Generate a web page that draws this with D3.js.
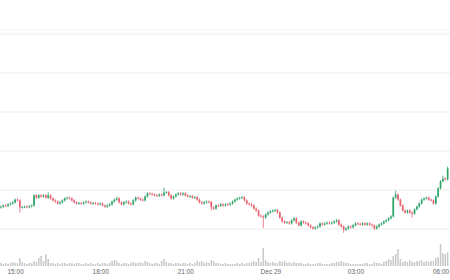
<!DOCTYPE html>
<html>
<head>
	<meta charset="UTF-8"/>
	<title>5m candles</title>
	<style type="text/css">
		body {
		margin: 0;
		background: #fff;
		font-family: Roboto, 'Open Sans', sans-serif;
		}

		svg {
		display: block;
		}

		.grid line {
		stroke: #ececec;
		stroke-width: 1;
		}

		.grid path, .axis path {
		display: none;
		}

		line.top-rule {
		stroke: #efefef;
		stroke-width: 2;
		stroke-dasharray: 1 2;
		}

		.axis text {
		font-size: 6.5px;
		fill: #666;
		}

		.vol {
		fill: #c8c8c8;
		}

		.up {
		fill: #2ea56b;
		stroke: #2ea56b;
		}

		.down {
		fill: #e8606d;
		stroke: #e8606d;
		}
	</style>
	<script src="https://d3js.org/d3.v7.min.js"></script>
</head>
<body>

	<svg width="450" height="280"></svg>

	<script>
		// 5 minute candles, 28 Dec 14:30 -> 29 Dec 06:15
		const firstTime = new Date(2023, 11, 28, 14, 30);
		const firstOpen = 2355.4;

		const closes = [
			2355.6, 2355.9, 2355.8, 2356.2, 2356.4, 2356.7, 2357.4, 2357.2, 2355.4, 2355.5,
			2355.6, 2355.5, 2355.7, 2355.9, 2358.5, 2357.9, 2358.5, 2358.2, 2358.5, 2357.9,
			2358.5, 2357.7, 2357.2, 2356.9, 2356.4, 2356.7, 2357.2, 2357.7, 2357.9, 2357.7,
			2357.2, 2356.7, 2356.4, 2356.5, 2356.4, 2356.7, 2356.9, 2356.7, 2356.4, 2356.5,
			2356.4, 2356.2, 2356.4, 2355.9, 2355.6, 2355.9, 2356.2, 2356.9, 2357.4, 2357.7,
			2356.7, 2356.2, 2356.7, 2356.9, 2356.4, 2356.2, 2357.2, 2357.9, 2357.7, 2357.4,
			2357.2, 2358.2, 2359.0, 2358.9, 2358.7, 2358.5, 2358.4, 2358.7, 2358.5, 2359.2,
			2359.3, 2358.5, 2357.7, 2358.2, 2358.7, 2359.0, 2358.7, 2359.0, 2358.5, 2358.2,
			2358.3, 2357.9, 2358.0, 2357.4, 2356.7, 2356.4, 2356.7, 2356.9, 2356.8, 2355.4,
			2355.1, 2355.9, 2355.8, 2356.2, 2355.9, 2356.2, 2356.1, 2356.4, 2356.9, 2357.4,
			2357.7, 2357.9, 2358.0, 2357.2, 2356.4, 2356.2, 2355.9, 2355.1, 2354.6, 2353.3,
			2353.1, 2352.8, 2353.6, 2354.1, 2354.4, 2354.6, 2354.7, 2354.1, 2352.8, 2351.8,
			2351.5, 2351.6, 2351.3, 2352.1, 2352.6, 2351.5, 2350.8, 2351.8, 2351.5, 2351.3,
			2350.8, 2350.3, 2350.0, 2350.3, 2350.5, 2351.3, 2351.0, 2351.3, 2351.5, 2351.3,
			2351.5, 2351.8, 2352.1, 2351.0, 2350.5, 2349.7, 2350.0, 2350.5, 2350.3, 2350.8,
			2351.3, 2351.2, 2351.0, 2351.3, 2351.0, 2351.3, 2351.0, 2350.8, 2350.0, 2350.5,
			2351.0, 2351.3, 2351.8, 2352.1, 2352.6, 2353.1, 2357.9, 2358.7, 2357.4, 2355.9,
			2354.6, 2354.1, 2354.6, 2354.1, 2353.8, 2354.9, 2355.6, 2356.4, 2357.4, 2357.7,
			2357.9, 2357.4, 2357.2, 2356.4, 2358.2, 2360.3, 2362.1, 2362.8, 2362.6, 2365.4
		];

		// wick beyond the body; most are tiny, the long ones are listed
		const baseWick = 0.3;
		const longUpperWicks = [[20, 0.8], [49, 0.5], [69, 1.3], [167, 1.0], [187, 0.8], [189, 0.5]];
		const longLowerWicks = [[8, 1.3], [89, 0.8], [111, 2.6], [145, 0.8], [174, 1.0]];

		const volumes = [
			300, 200, 300, 200, 300, 400, 300, 300, 800, 400,
			300, 200, 300, 300, 500, 400, 800, 1000, 500, 1200,
			700, 300, 300, 200, 300, 200, 300, 300, 200, 300,
			300, 200, 300, 300, 200, 200, 300, 200, 300, 200,
			200, 300, 200, 300, 300, 200, 300, 500, 600, 500,
			300, 200, 300, 300, 200, 300, 400, 300, 300, 400,
			300, 500, 400, 300, 200, 300, 300, 200, 500, 700,
			400, 300, 300, 200, 300, 300, 200, 300, 300, 200,
			300, 200, 300, 500, 400, 500, 300, 400, 300, 600,
			500, 300, 300, 200, 200, 300, 200, 200, 200, 200,
			300, 200, 300, 200, 300, 300, 400, 500, 400, 800,
			400, 1800, 600, 400, 300, 400, 300, 300, 500, 400,
			500, 300, 400, 300, 400, 300, 300, 300, 200, 200,
			300, 200, 200, 200, 300, 300, 200, 200, 200, 200,
			300, 300, 400, 400, 500, 400, 300, 300, 200, 200,
			200, 200, 200, 200, 300, 300, 200, 200, 400, 300,
			300, 200, 400, 500, 700, 600, 1000, 1200, 1700, 700,
			400, 500, 400, 600, 400, 400, 500, 500, 600, 400,
			500, 400, 500, 500, 800, 900, 2200, 1300, 1200, 1400
		];

		const gridLevels = [2400, 2390, 2380, 2370, 2360, 2350];
		const topRuleLevel = 2400.9;
		const tickTimes = [
			new Date(2023, 11, 28, 15), new Date(2023, 11, 28, 18), new Date(2023, 11, 28, 21),
			new Date(2023, 11, 29, 0), new Date(2023, 11, 29, 3), new Date(2023, 11, 29, 6)
		];
		const tickLabels = ['15:00', '18:00', '21:00', 'Dec 29', '03:00', '06:00'];

		const upper = new Map(longUpperWicks);
		const lower = new Map(longLowerWicks);

		const candles = closes.map((c, i) => {
			const o = i ? closes[i - 1] : firstOpen;
			return {
				t: d3.timeMinute.offset(firstTime, 5 * i),
				o: o,
				c: c,
				h: Math.max(o, c) + (upper.get(i) ?? baseWick),
				l: Math.min(o, c) - (lower.get(i) ?? baseWick),
				v: volumes[i]
			};
		});

		const width = 450;
		const svg = d3.select('svg');

		const x = d3.scaleTime()
			.domain([new Date(2023, 11, 28, 14, 28), new Date(2023, 11, 29, 6, 20)])
			.range([0, width]);

		const y = d3.scaleLinear()
			.domain([2350, 2400])
			.range([228.5, 33.5]);

		const volBase = 266;
		const yVol = d3.scaleLinear()
			.domain([0, 2600])
			.range([volBase, volBase - 26]);

		// horizontal grid
		svg.append('g')
			.attr('class', 'grid')
			.call(d3.axisRight(y).tickValues(gridLevels).tickSize(width).tickFormat(''));

		// faint dotted rule just above the top grid line
		svg.append('line')
			.attr('class', 'top-rule')
			.attr('x1', 0)
			.attr('x2', width)
			.attr('y1', y(topRuleLevel))
			.attr('y2', y(topRuleLevel));

		// volume histogram
		svg.append('g')
			.selectAll('rect')
			.data(candles)
			.join('rect')
			.attr('class', 'vol')
			.attr('x', d => x(d.t) - 0.75)
			.attr('width', 1.5)
			.attr('y', d => yVol(d.v))
			.attr('height', d => volBase - yVol(d.v));

		// time axis
		svg.append('g')
			.attr('class', 'axis')
			.attr('transform', `translate(0, ${volBase})`)
			.call(d3.axisBottom(x)
				.tickValues(tickTimes)
				.tickSize(0)
				.tickPadding(3)
				.tickFormat((d, i) => tickLabels[i]));

		// candles
		const candle = svg.append('g')
			.selectAll('g')
			.data(candles)
			.join('g')
			.attr('class', d => d.c >= d.o ? 'up' : 'down');

		candle.append('line')
			.attr('x1', d => x(d.t))
			.attr('x2', d => x(d.t))
			.attr('y1', d => y(d.h))
			.attr('y2', d => y(d.l))
			.attr('stroke-width', 0.8);

		candle.append('rect')
			.attr('x', d => x(d.t) - 0.85)
			.attr('width', 1.7)
			.attr('y', d => y(Math.max(d.o, d.c)))
			.attr('height', d => Math.max(0.8, Math.abs(y(d.o) - y(d.c))))
			.attr('stroke', 'none');
	</script>
</body>
</html>
